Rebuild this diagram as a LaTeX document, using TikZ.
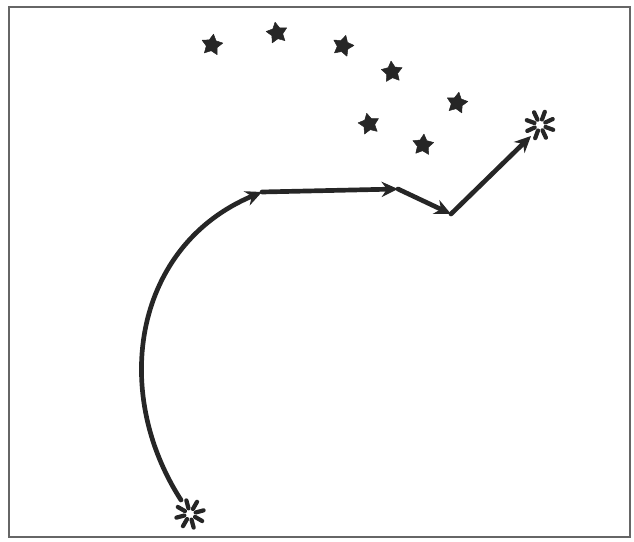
\documentclass[tikz,border=0pt]{standalone}
\usetikzlibrary{shapes.geometric,arrows.meta}

\begin{document}
\begin{tikzpicture}[
    x=0.03cm, y=-0.03cm,
    frame/.style={draw=black!60, line width=1.1pt},
    sky/.style={star, star points=5, star point ratio=1.9, fill=black!85, draw=black!85, line join=round, inner sep=0pt, minimum size=0.66cm},
    spark/.style={line width=3.6pt, line cap=round, black!85},
    route/.style={line width=4pt, black!85, line cap=round, line join=round, -{Stealth[length=14pt,width=13pt]}},
]

% Frame
\useasboundingbox (0,0) rectangle (634,542);
\draw[frame] (9,7) rectangle (630,537);

% Stars
\node[sky, rotate=-8] (s1) at (212,45) {};
\node[sky, rotate=10] (s2) at (277,33) {};
\node[sky, rotate=-15] (s3) at (343,46) {};
\node[sky, rotate=5] (s4) at (392,72) {};
\node[sky, rotate=-10] (s5) at (457,103) {};
\node[sky, rotate=12] (s6) at (369,124) {};
\node[sky, rotate=-5] (s7) at (423,145) {};

% Bursts at both ends
\coordinate (home) at (190,514);
\coordinate (goal) at (540,125);
\foreach \a in {15,60,105,150,195,240,285,330} {
    \draw[spark] (home) ++(\a:5pt) -- ++(\a:7pt);
    \draw[spark] (goal) ++(\a+10:5pt) -- ++(\a+10:7pt);
}

% Route
\coordinate (depart) at (181,500);
\coordinate (w1) at (262,192);
\coordinate (w2) at (398,189);
\coordinate (w3) at (451,214);
\coordinate (w4) at (531,136);

\draw[route] (depart) .. controls (110,390) and (135,245) .. (w1);
\draw[route] (w1) -- (w2);
\draw[route] (w2) -- (w3);
\draw[route] (w3) -- (w4);

\end{tikzpicture}
\end{document}
